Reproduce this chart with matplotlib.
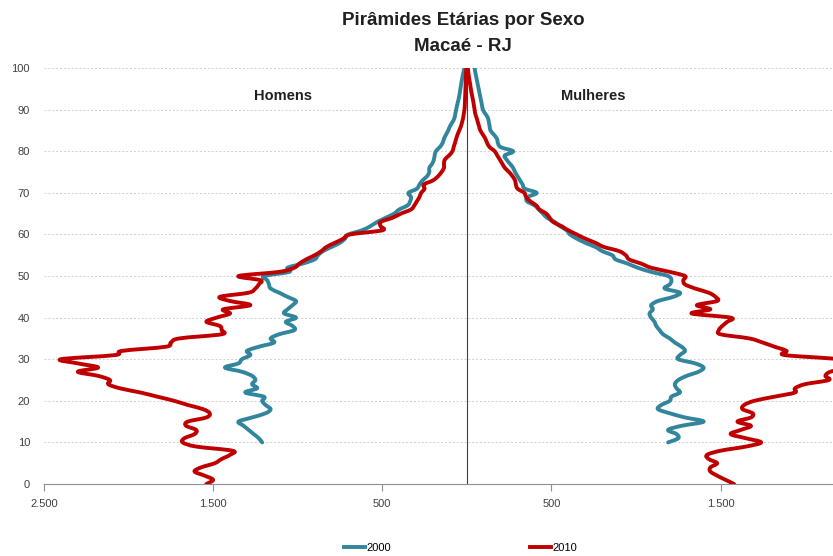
import numpy as np
import matplotlib.pyplot as plt
from matplotlib.path import Path
from matplotlib.patches import PathPatch
from matplotlib.lines import Line2D
from matplotlib.ticker import FuncFormatter

# idades de 0 a 100; os dados de 2000 comecam aos 10 anos
ages_2010 = list(range(0, 101))
ages_2000 = list(range(10, 101))

homens_2010 = [1540, 1500, 1550, 1610, 1570, 1490, 1450, 1400, 1385, 1600,
               1680, 1670, 1610, 1600, 1660, 1650, 1540, 1520, 1560, 1650,
               1730, 1830, 1930, 2050, 2120, 2110, 2180, 2300, 2180, 2300,
               2400, 2080, 2040, 1780, 1750, 1700, 1450, 1450, 1460, 1540,
               1480, 1400, 1440, 1280, 1400, 1460, 1290, 1250, 1230, 1220,
               1350, 1110, 1020, 990, 950, 900, 860, 830, 780, 730,
               690, 500, 510, 510, 440, 390, 330, 310, 295, 280,
               270, 250, 255, 200, 170, 150, 135, 135, 130, 105,
               85, 78, 70, 63, 55, 45, 35, 28, 22, 18,
               14, 12, 11, 10, 9, 8, 7, 6, 5, 4, 4]

mulheres_2010 = [1580, 1530, 1480, 1440, 1440, 1480, 1430, 1420, 1500, 1650,
                 1740, 1650, 1560, 1620, 1680, 1600, 1680, 1690, 1630, 1640,
                 1700, 1820, 1940, 1940, 2000, 2140, 2120, 2150, 2250, 2210,
                 2200, 1880, 1890, 1820, 1750, 1670, 1500, 1490, 1510, 1540,
                 1560, 1330, 1440, 1360, 1480, 1470, 1430, 1350, 1290, 1280,
                 1290, 1200, 1090, 1030, 960, 940, 900, 810, 760, 700,
                 650, 600, 560, 510, 490, 470, 430, 410, 375, 350,
                 340, 300, 290, 285, 270, 250, 225, 210, 195, 180,
                 165, 135, 120, 110, 95, 80, 72, 65, 58, 50,
                 46, 42, 38, 33, 28, 24, 20, 16, 12, 9, 6]

homens_2000 = [1210, 1230, 1260, 1290, 1320, 1350, 1270, 1190, 1160, 1190,
               1210, 1200, 1310, 1240, 1270, 1250, 1270, 1330, 1430, 1350,
               1330, 1280, 1300, 1230, 1140, 1160, 1110, 1020, 1030, 1070,
               1010, 1080, 1060, 1030, 1010, 1060, 1110, 1160, 1170, 1180,
               1200, 1050, 1060, 970, 900, 880, 850, 800, 750, 720,
               700, 620, 570, 530, 480, 430, 400, 350, 335, 330,
               345, 295, 280, 262, 235, 222, 222, 205, 195, 190,
               183, 160, 143, 135, 123, 110, 100, 85, 73, 68,
               63, 58, 52, 46, 42, 38, 34, 30, 25, 20, 14]

mulheres_2000 = [1190, 1250, 1240, 1190, 1270, 1400, 1290, 1200, 1130, 1150,
                 1200, 1210, 1260, 1240, 1230, 1250, 1300, 1370, 1400, 1350,
                 1250, 1260, 1290, 1270, 1230, 1200, 1160, 1140, 1120, 1110,
                 1090, 1080, 1100, 1090, 1130, 1220, 1260, 1170, 1200, 1210,
                 1190, 1090, 1010, 950, 880, 860, 800, 760, 700, 650,
                 610, 590, 550, 520, 475, 450, 425, 400, 355, 360,
                 413, 343, 330, 315, 300, 285, 274, 255, 235, 224,
                 274, 200, 184, 178, 160, 140, 135, 130, 125, 110,
                 95, 90, 85, 80, 75, 70, 65, 60, 55, 50, 46]

azul = '#31859C'
vermelho = '#C00000'
narrow = ['Liberation Sans', 'DejaVu Sans']
LW = 2.8


# linha suavizada como no Excel (curvas de Bezier pelos pontos)
def linha_suave(ax, xs, ys, cor):
    p = np.column_stack([xs, ys]).astype(float)
    verts = [p[0]]
    codes = [Path.MOVETO]
    n = len(p)
    for i in range(n - 1):
        p0 = p[i - 1] if i > 0 else p[i]
        p1 = p[i]
        p2 = p[i + 1]
        p3 = p[i + 2] if i + 2 < n else p[i + 1]
        verts += [p1 + (p2 - p0) / 6, p2 - (p3 - p1) / 6, p2]
        codes += [Path.CURVE4] * 3
    patch = PathPatch(Path(verts, codes), fill=False, edgecolor=cor, lw=LW,
                      joinstyle='round', capstyle='round', zorder=3)
    ax.add_patch(patch)


fig = plt.figure(figsize=(8.33, 5.56), dpi=100)
ax = fig.add_axes([0.0528, 0.1295, 0.9472, 0.748])

linha_suave(ax, -np.array(homens_2000), ages_2000, azul)
linha_suave(ax, -np.array(homens_2010), ages_2010, vermelho)
linha_suave(ax, mulheres_2000, ages_2000, azul)
linha_suave(ax, mulheres_2010, ages_2010, vermelho)

ax.set_xlim(-2500, 2165)
ax.set_ylim(0, 100)

# eixo vertical no zero
ax.axvline(0, color='#404040', lw=0.8, zorder=1)

ax.set_yticks(range(0, 101, 10))
ax.set_xticks([-2500, -1500, -500, 500, 1500])
ax.xaxis.set_major_formatter(FuncFormatter(
    lambda v, p: '{:,.0f}'.format(abs(v)).replace(',', '.')))
ax.yaxis.grid(True, color='#D0D0D0', ls=(0, (2, 2)), lw=0.7)
ax.set_axisbelow(True)

for s in ['top', 'right', 'left']:
    ax.spines[s].set_visible(False)
ax.spines['bottom'].set_color('#909090')
ax.tick_params(axis='x', colors='#909090', length=5, labelcolor='#404040',
               labelsize=8, pad=6)
ax.tick_params(axis='y', length=0, labelcolor='#404040', labelsize=8, pad=10)
for lbl in ax.get_xticklabels() + ax.get_yticklabels():
    lbl.set_family(narrow)

ax.text(-1085, 93.3, 'Homens', ha='center', va='center', fontsize=10.5,
        fontweight='bold', color='#202020', family=narrow)
ax.text(750, 93.3, 'Mulheres', ha='center', va='center', fontsize=10.5,
        fontweight='bold', color='#202020', family=narrow)

fig.text(0.556, 0.963, 'Pirâmides Etárias por Sexo', ha='center', va='center',
         fontsize=13.5, fontweight='bold', family=narrow, color='#202020')
fig.text(0.556, 0.917, 'Macaé - RJ', ha='center', va='center',
         fontsize=13.5, fontweight='bold', family=narrow, color='#202020')

handles = [Line2D([], [], color=azul, lw=LW), Line2D([], [], color=vermelho, lw=LW)]
fig.legend(handles, ['2000', '2010'], loc='center', bbox_to_anchor=(0.553, 0.015),
           ncol=2, frameon=False, handlelength=1.9, handletextpad=0.15,
           columnspacing=12.5, prop={'family': narrow, 'size': 8})

fig.savefig('out.png', dpi=100)
